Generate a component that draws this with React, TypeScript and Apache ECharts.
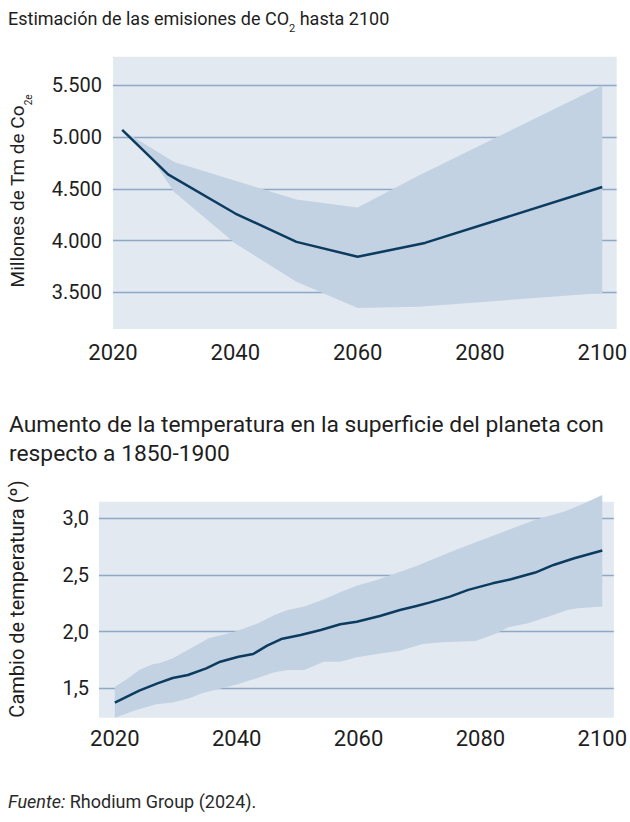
import React, { useEffect, useRef } from "react";
import * as echarts from "echarts";

// ---- Data ----
const xTickYears = [2020, 2040, 2060, 2080, 2100];
const co2Ticks = [3500, 4000, 4500, 5000, 5500];
const tempTicks = [1.5, 2.0, 2.5, 3.0];

const co2LineYears = [2021.5, 2029, 2040, 2050, 2060, 2071, 2100];
const co2LineValues = [5070, 4640, 4262, 3988, 3844, 3978, 4519];
const co2UpperYears = [2021.5, 2030, 2040, 2050, 2060, 2070, 2100];
const co2UpperValues = [5070, 4760, 4580, 4397, 4320, 4630, 5500];
const co2LowerYears = [2021.5, 2026, 2030, 2040, 2050, 2060, 2070, 2100];
const co2LowerValues = [5070, 4820, 4471, 3973, 3602, 3350, 3360, 3495];

const tempLineYears = [2020, 2024, 2027, 2029.5, 2032, 2035, 2037.3, 2040.3, 2042.7, 2045, 2047.3, 2050.5, 2053.8, 2057, 2059.7, 2063.5, 2066.8, 2069.5, 2071.6, 2075, 2078, 2082, 2085, 2089, 2092, 2095.4, 2100];
const tempLineValues = [1.374, 1.479, 1.544, 1.591, 1.618, 1.676, 1.735, 1.779, 1.803, 1.876, 1.935, 1.971, 2.015, 2.065, 2.088, 2.138, 2.191, 2.226, 2.256, 2.309, 2.368, 2.426, 2.462, 2.521, 2.588, 2.647, 2.715];
const tempUpperYears = [2020, 2021.9, 2024, 2026.2, 2027.3, 2029.5, 2032.2, 2035.4, 2037.6, 2040.3, 2043.5, 2046.2, 2048.4, 2051.1, 2053.8, 2057, 2059.7, 2063, 2069.5, 2075.9, 2082.4, 2088.9, 2093.8, 2096.5, 2100];
const tempUpperValues = [1.515, 1.579, 1.662, 1.712, 1.721, 1.765, 1.844, 1.941, 1.971, 2.009, 2.074, 2.147, 2.191, 2.221, 2.274, 2.347, 2.405, 2.456, 2.579, 2.721, 2.853, 2.985, 3.059, 3.118, 3.206];
const tempLowerYears = [2020, 2023.5, 2026.8, 2029.5, 2032.2, 2034.3, 2037.6, 2040.3, 2043, 2046.2, 2048.4, 2051.1, 2054.3, 2057, 2059.7, 2063, 2066.8, 2070.5, 2073.8, 2079.2, 2082.4, 2084.6, 2087.8, 2091.1, 2094.3, 2096, 2100];
const tempLowerValues = [1.241, 1.309, 1.359, 1.374, 1.412, 1.456, 1.5, 1.538, 1.585, 1.641, 1.662, 1.662, 1.735, 1.735, 1.775, 1.803, 1.832, 1.891, 1.906, 1.918, 1.979, 2.038, 2.074, 2.132, 2.191, 2.206, 2.221];

// ---- Styles ----
const FONT = "Roboto, 'Noto Sans', sans-serif";
const TEXT = "#1e1e1e";
const BG = "#e2e9f1";
const BAND = "#c3d2e2";
const GRIDLINE = "#8ea9c7";
const LINE = "#0c3b60";

function bandSeries(idx: number, ux: number[], uy: number[], lx: number[], ly: number[]) {
  return {
    type: "custom",
    xAxisIndex: idx,
    yAxisIndex: idx,
    clip: false,
    silent: true,
    z: 1,
    data: [[ux[0], uy[0]]],
    renderItem: (_params: any, api: any) => {
      const pts: number[][] = [];
      ux.forEach((x, i) => pts.push(api.coord([x, uy[i]])));
      for (let i = lx.length - 1; i >= 0; i--) pts.push(api.coord([lx[i], ly[i]]));
      return { type: "polygon", shape: { points: pts }, style: { fill: BAND } };
    },
  };
}

function lineSeries(idx: number, xs: number[], ys: number[]) {
  return {
    type: "line",
    xAxisIndex: idx,
    yAxisIndex: idx,
    data: xs.map((x, i) => [x, ys[i]]),
    symbol: "none",
    clip: false,
    silent: true,
    z: 3,
    lineStyle: { color: LINE, width: 2.5 },
  };
}

const thousands = (v: number) => String(Math.round(v)).replace(/\B(?=(\d{3})+(?!\d))/g, ".");
const decimalComma = (v: number) => v.toFixed(1).replace(".", ",");

export default function App() {
  const ref = useRef<HTMLDivElement>(null);
  useEffect(() => {
    if (!ref.current) return;
    const chart = echarts.init(ref.current, undefined, { renderer: "svg" });
    const xAxisCommon = (margin: number) => ({
      type: "value",
      axisLine: { show: false },
      axisTick: { show: false, customValues: xTickYears },
      splitLine: { show: false },
      axisLabel: {
        customValues: xTickYears,
        fontSize: 22,
        fontFamily: FONT,
        color: TEXT,
        margin,
        formatter: (v: number) => String(v),
      },
    });
    const option: any = {
      animation: false,
      grid: [
        { left: 113, right: 10, top: 56.7, height: 272.3, show: true, backgroundColor: BG, borderWidth: 0 },
        { left: 99, right: 10, top: 501.7, height: 216, show: true, backgroundColor: BG, borderWidth: 0 },
      ],
      xAxis: [
        { ...xAxisCommon(12), gridIndex: 0, min: 2020, max: 2102.35 },
        { ...xAxisCommon(9.5), gridIndex: 1, min: 2017.4, max: 2101.9 },
      ],
      yAxis: [
        {
          type: "value",
          gridIndex: 0,
          min: 3146,
          max: 5778,
          axisLine: { show: false },
          axisTick: { show: false, customValues: co2Ticks },
          splitLine: { show: true, lineStyle: { color: GRIDLINE, width: 1.3 } },
          axisLabel: { customValues: co2Ticks, formatter: thousands, fontSize: 20, fontFamily: FONT, color: TEXT, margin: 11 },
        },
        {
          type: "value",
          gridIndex: 1,
          min: 1.241,
          max: 3.146,
          axisLine: { show: false },
          axisTick: { show: false, customValues: tempTicks },
          splitLine: { show: true, lineStyle: { color: GRIDLINE, width: 1.3 } },
          axisLabel: { customValues: tempTicks, formatter: decimalComma, fontSize: 20, fontFamily: FONT, color: TEXT, margin: 10 },
        },
      ],
      series: [
        bandSeries(0, co2UpperYears, co2UpperValues, co2LowerYears, co2LowerValues),
        lineSeries(0, co2LineYears, co2LineValues),
        bandSeries(1, tempUpperYears, tempUpperValues, tempLowerYears, tempLowerValues),
        lineSeries(1, tempLineYears, tempLineValues),
      ],
      graphic: [
        {
          type: "text",
          x: 8,
          y: 18.5,
          style: {
            text: "Estimación de las emisiones de CO{sub|2} hasta 2100",
            fontSize: 18,
            fontFamily: FONT,
            fill: TEXT,
            align: "left",
            verticalAlign: "middle",
            lineHeight: 30,
            rich: { sub: { fontSize: 11, fontFamily: FONT, fill: TEXT, verticalAlign: "bottom", lineHeight: 11 } },
          },
        },
        {
          type: "text",
          x: 17.6,
          y: 191,
          rotation: Math.PI / 2,
          style: {
            text: "Millones de Tm de Co{sub|2e}",
            fontSize: 19,
            fontFamily: FONT,
            fill: TEXT,
            align: "center",
            verticalAlign: "middle",
            lineHeight: 32,
            rich: { sub: { fontSize: 10, fontFamily: FONT, fill: TEXT, verticalAlign: "bottom", lineHeight: 10 } },
          },
        },
        {
          type: "text",
          x: 9,
          y: 410,
          style: {
            text: "Aumento de la temperatura en la superficie del planeta con\nrespecto a 1850-1900",
            fontSize: 22.8,
            fontFamily: FONT,
            fill: TEXT,
            align: "left",
            verticalAlign: "top",
            lineHeight: 29,
          },
        },
        {
          type: "text",
          x: 16.5,
          y: 599,
          rotation: Math.PI / 2,
          style: {
            text: "Cambio de temperatura (º)",
            fontSize: 20,
            fontFamily: FONT,
            fill: TEXT,
            align: "center",
            verticalAlign: "middle",
          },
        },
        {
          type: "text",
          x: 8,
          y: 801,
          style: {
            text: "{i|Fuente:} Rhodium Group (2024).",
            fontSize: 18,
            fontFamily: FONT,
            fill: "#2a2a2a",
            align: "left",
            verticalAlign: "middle",
            rich: { i: { fontStyle: "italic", fontSize: 18, fontFamily: FONT, fill: "#2a2a2a" } },
          },
        },
      ],
    };
    chart.setOption(option);
    return () => chart.dispose();
  }, []);
  return (
    <div
      ref={ref}
      style={{ position: "fixed", left: 0, top: 0, width: 630, height: 822, background: "#ffffff" }}
    />
  );
}
